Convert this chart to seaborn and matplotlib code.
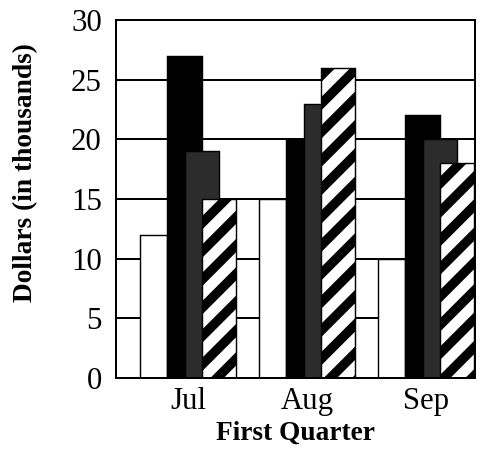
# Gráfico de barras agrupadas: primer trimestre (Jul-Sep)
import pandas as pd
import matplotlib
matplotlib.use("Agg")
import matplotlib.pyplot as plt
import seaborn as sns

# --- datos ---
months = ["Jul", "Aug", "Sep"]
series_names = ["Serie 1", "Serie 2", "Serie 3", "Serie 4"]
white_vals = [12, 15, 10]
black_vals = [27, 20, 22]
gray_vals = [19, 23, 20]
hatch_vals = [15, 26, 18]
yticks = [0, 5, 10, 15, 20, 25, 30]

df = pd.DataFrame({
    "month": months * 4,
    "series": sum([[s] * 3 for s in series_names], []),
    "value": white_vals + black_vals + gray_vals + hatch_vals,
})

# --- estilo ---
DPI = 170
sns.set_style("white")
plt.rcParams["font.family"] = ["Liberation Serif", "DejaVu Serif"]
plt.rcParams["hatch.linewidth"] = 4.0
for k in ["text.color", "axes.labelcolor", "xtick.color", "ytick.color"]:
    plt.rcParams[k] = "black"
lw = 2 * 72 / DPI  # ~2 px

fig = plt.figure(figsize=(491 / DPI, 453 / DPI), dpi=DPI)
ax = fig.add_axes([116 / 491, 1 - 378 / 453, 359 / 491, 358 / 453])

colors = ["white", "black", "#2c2c2c", "white"]
sns.barplot(data=df, x="month", y="value", hue="series", palette=colors,
            edgecolor="black", linewidth=0.6, saturation=1, width=0.8,
            legend=False, ax=ax)

# barras superpuestas como en el original
offsets = [-0.403, -0.176, -0.025, 0.118]
widths = [0.227, 0.294, 0.286, 0.286]
for i, cont in enumerate(ax.containers):
    for j, bar in enumerate(cont):
        bar.set_x(j + offsets[i])
        bar.set_width(widths[i])
        if i == 3:
            bar.set_hatch("//")

ax.set_xlim(-0.605, 2.41)
ax.set_ylim(0, 30)
ax.set_yticks(yticks)
ax.set_axisbelow(True)
ax.yaxis.grid(True, color="black", linewidth=lw)
for s in ax.spines.values():
    s.set_linewidth(lw)
    s.set_color("black")

ax.tick_params(axis="y", length=0, pad=6, labelsize=13)
ax.tick_params(axis="x", length=0, pad=4, labelsize=13)

ax.set_xlabel("First Quarter", fontsize=11.6, fontweight="bold", labelpad=2)
ax.set_ylabel("Dollars (in thousands)", fontsize=11.6, fontweight="bold")
ax.yaxis.set_label_coords(-0.217, 0.573)

fig.savefig("out.png", dpi=DPI)
